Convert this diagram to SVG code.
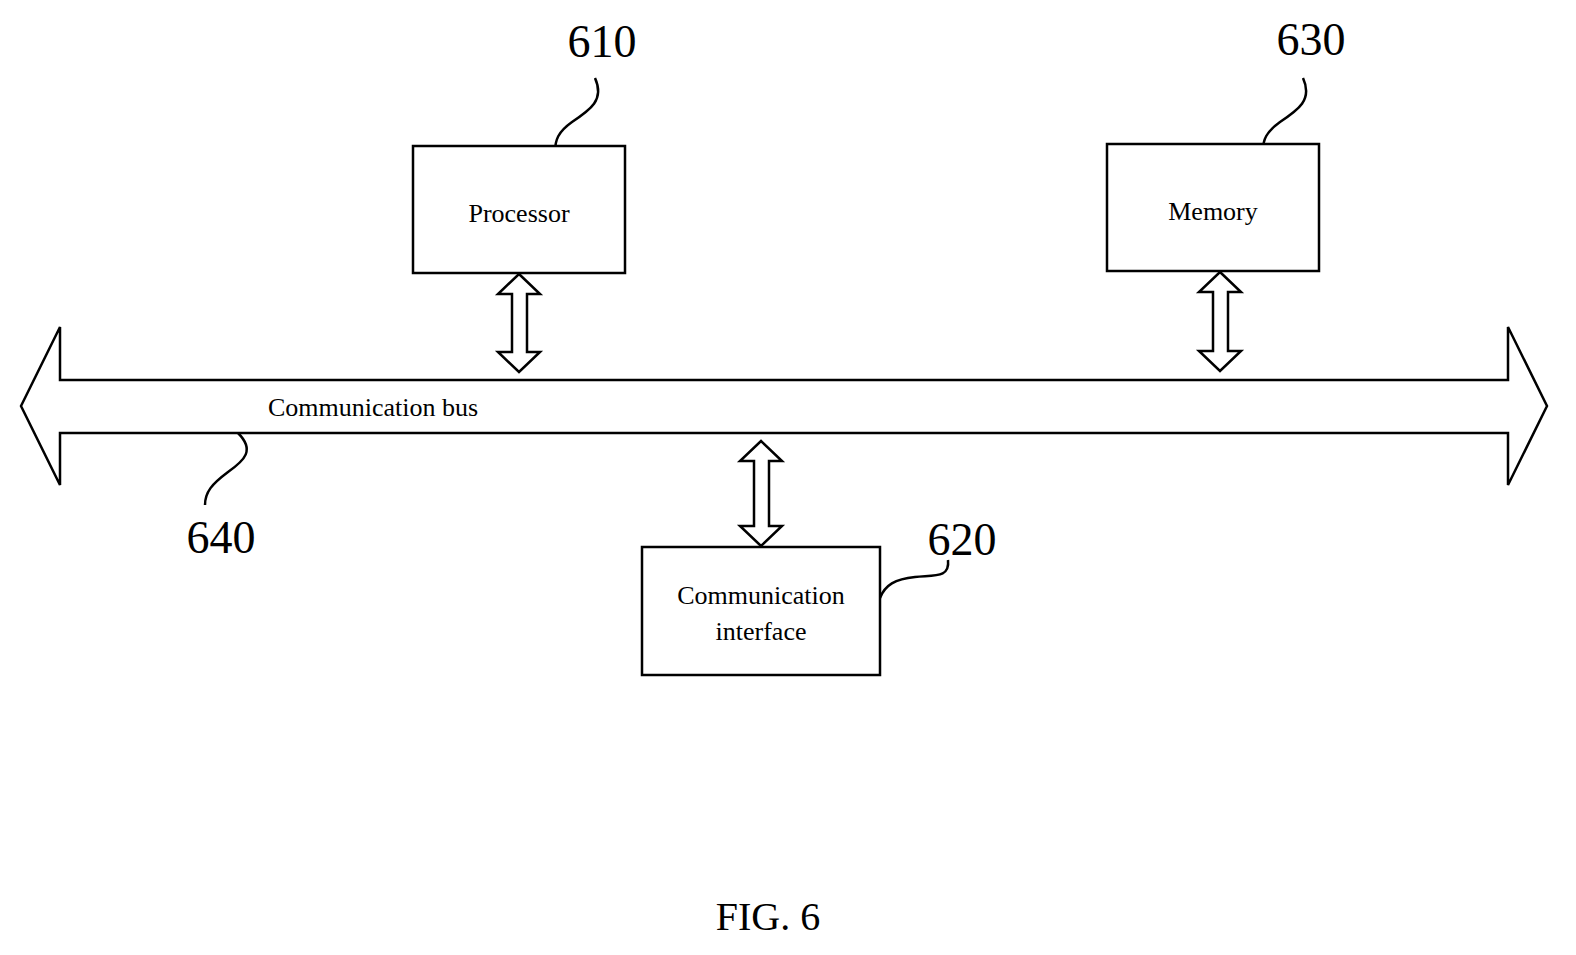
<svg xmlns="http://www.w3.org/2000/svg" width="1576" height="955" viewBox="0 0 1576 955">
<style>
.box{fill:#fff;stroke:#000;stroke-width:2.5}
.ln{fill:none;stroke:#000;stroke-width:2.5}
.t{font-family:"Liberation Serif",serif;font-size:26px;text-anchor:middle}
.n{font-family:"Liberation Serif",serif;font-size:46px;text-anchor:middle}
</style>
<rect width="1576" height="955" fill="#fff"/>
<g id="connectors">
<path class="ln" d="M21,406 L60,327 L60,380 L1508,380 L1508,327 L1547,406 L1508,485 L1508,433 L60,433 L60,485 Z"/>
<path class="ln" d="M519,274 L540,294 L527,294 L527,352 L540,352 L519,372 L498,352 L512,352 L512,294 L498,294 Z"/>
<path class="ln" d="M1220,272 L1241,292 L1228,292 L1228,351 L1241,351 L1220,371 L1199,351 L1213,351 L1213,292 L1199,292 Z"/>
<path class="ln" d="M761,441 L782,461 L769,461 L769,526 L782,526 L761,546 L740,526 L754,526 L754,461 L740,461 Z"/>
<path class="ln" d="M595,78 C605,100 590,110 572,122 C558,132 555,140 555,152"/>
<path class="ln" d="M1303,78 C1313,100 1298,110 1280,122 C1266,132 1263,140 1263,150"/>
<path class="ln" d="M948,560 C950,578 935,575 915,577 C895,579 885,585 880,598"/>
<path class="ln" d="M238,433 C255,450 245,460 228,472 C212,484 205,492 205,505"/>
</g>
<g id="processor"><rect class="box" x="413" y="146" width="212" height="127"/><text class="t" x="519" y="222">Processor</text></g>
<g id="memory"><rect class="box" x="1107" y="144" width="212" height="127"/><text class="t" x="1213" y="220">Memory</text></g>
<g id="interface"><rect class="box" x="642" y="547" width="238" height="128"/><text class="t" x="761" y="604">Communication</text><text class="t" x="761" y="640">interface</text></g>
<g id="bus"><text class="t" x="373" y="416">Communication bus</text></g>
<g id="labels">
<text class="n" x="602" y="57">610</text>
<text class="n" x="1311" y="55">630</text>
<text class="n" x="962" y="555">620</text>
<text class="n" x="221" y="553">640</text>
<text class="n" x="768" y="930" style="font-size:40px">FIG. 6</text>
</g>
</svg>
